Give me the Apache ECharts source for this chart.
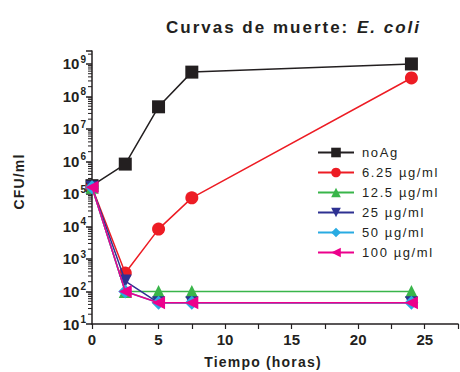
<!DOCTYPE html>
<html><head><meta charset="utf-8">
<script src="https://cdn.jsdelivr.net/npm/echarts@6/dist/echarts.min.js"></script>
<style>
html,body{margin:0;padding:0;background:#fff}
#c{width:460px;height:372px}
#c text[style*="17px"]{letter-spacing:2px}
#c text[style*="13px"]{letter-spacing:1.6px}
#c text[style*="14px"]{letter-spacing:1.2px}
</style>
</head><body><div id="c"></div>
<script>
const times = [0, 2.5, 5, 7.5, 24];
const seriesNames = ['noAg', '6.25 µg/ml', '12.5 µg/ml', '25 µg/ml', '50 µg/ml', '100 µg/ml'];
const noAg = [1.8e5, 8.3e5, 4.8e7, 5.6e8, 1.0e9];
const ag625 = [1.6e5, 370, 8.3e3, 7.6e4, 3.7e8];
const ag125 = [1.6e5, 100, 100, 100, 100];
const ag25 = [1.6e5, 210, 45, 45, 45];
const ag50 = [1.6e5, 100, 45, 45, 45];
const ag100 = [1.6e5, 100, 45, 45, 45];
const xTicks = [0, 5, 10, 15, 20, 25];
const yMin = 10, yMax = 2.5e9;

// log minor ticks (2..9 × 10^n) inside the axis range
const minorTickValues = [];
for (let n = 1; n <= 9; n++) {
  for (let k = 2; k <= 9; k++) {
    const v = k * Math.pow(10, n);
    if (v < yMax) minorTickValues.push(v);
  }
}

const colors = ['#231f20', '#ed1c24', '#39b54a', '#2e3192', '#29abe2', '#ec008c'];
const symbols = ['rect', 'circle', 'triangle', 'triangle', 'diamond', 'triangle'];
const rotations = [0, 0, 0, 180, 0, 90];
const sizes = [13, 13, 13, 13, 14, 13];
const allData = [noAg, ag625, ag125, ag25, ag50, ag100];
const FF = '"Liberation Sans", Arial, sans-serif';
const INK = '#231f20';

const chart = echarts.init(document.getElementById('c'), null, {renderer: 'svg'});
const series = seriesNames.map((n, i) => ({
  name: n, type: 'line',
  data: times.map((t, j) => [t, allData[i][j]]),
  symbol: symbols[i], symbolSize: sizes[i], symbolRotate: rotations[i],
  showAllSymbol: true,
  lineStyle: {color: colors[i], width: 1.5},
  itemStyle: {color: colors[i], borderWidth: 0},
  z: 2 + i
}));
series.push({
  type: 'custom', name: 'minorTicks', silent: true, clip: false, z: 1,
  data: minorTickValues.map(v => [0, v]),
  renderItem: (params, api) => {
    const p = api.coord([0, api.value(1)]);
    return {type: 'line', shape: {x1: p[0] - 4, y1: p[1], x2: p[0], y2: p[1]},
            style: {stroke: INK, lineWidth: 1}};
  }
});

chart.setOption({
  animation: false,
  title: [
    {text: 'Curvas de muerte:', left: 161, top: 14,
     textStyle: {fontFamily: FF, fontSize: 17, fontWeight: 'bold', color: INK}},
    {text: 'E. coli', left: 352, top: 14,
     textStyle: {fontFamily: FF, fontSize: 17, fontWeight: 'bold', fontStyle: 'italic', color: INK}}
  ],
  legend: {
    orient: 'vertical', left: 317, top: 146, padding: 0,
    itemWidth: 36, itemHeight: 12, itemGap: 7,
    data: seriesNames,
    textStyle: {fontFamily: FF, fontSize: 13, color: INK, padding: [0, 0, 0, 3]}
  },
  grid: {left: 92, right: 2, top: 51, bottom: 48, containLabel: false, outerBoundsMode: 'none'},
  xAxis: {
    type: 'value', min: 0, max: 27.5, interval: 2.5,
    name: 'Tiempo (horas)', nameLocation: 'middle', nameGap: 31,
    nameTextStyle: {fontFamily: FF, fontSize: 14, fontWeight: 'bold', color: INK, padding: [0, 24, 0, 0]},
    axisLine: {lineStyle: {color: INK, width: 1.5}},
    axisTick: {length: 5, lineStyle: {color: INK, width: 1.2}},
    splitLine: {show: false},
    axisLabel: {
      fontFamily: FF, fontSize: 15, fontWeight: 'bold', color: INK, margin: 8,
      formatter: v => (xTicks.indexOf(v) >= 0 ? String(v) : '')
    }
  },
  yAxis: {
    type: 'log', logBase: 10, min: yMin, max: yMax,
    name: 'CFU/ml', nameLocation: 'middle', nameGap: 66,
    nameTextStyle: {fontFamily: FF, fontSize: 14, fontWeight: 'bold', color: INK, padding: [0, 0, 0, 12]},
    axisLine: {lineStyle: {color: INK, width: 1.5}},
    axisTick: {length: 6, lineStyle: {color: INK, width: 1.5}},
    splitLine: {show: false},
    axisLabel: {
      margin: 6,
      formatter: v => {
        const l = Math.log10(v);
        const e = Math.round(l);
        if (Math.abs(l - e) > 1e-6) return '';
        return '{b|10}{s|' + e + '}';
      },
      rich: {
        b: {fontFamily: FF, fontSize: 15, fontWeight: 'bold', color: INK},
        s: {fontFamily: FF, fontSize: 10, fontWeight: 'bold', color: INK, verticalAlign: 'bottom', padding: [0, 0, 9, 1]}
      }
    }
  },
  series: series
});
</script></body></html>
